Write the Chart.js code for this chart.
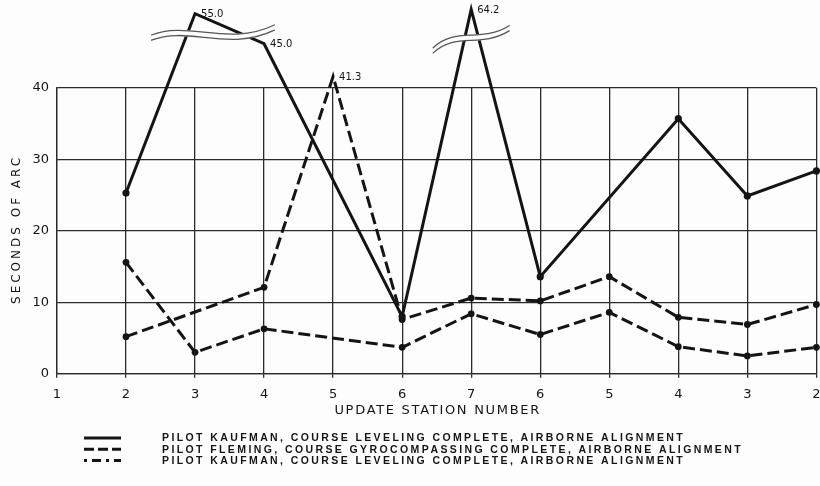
<!DOCTYPE html>
<html>
<head>
<meta charset="utf-8">
<script src="https://cdn.jsdelivr.net/npm/chart.js@4"></script>
<style>
  html, body { margin: 0; padding: 0; background: #fdfdfd; }
  #wrap { width: 820px; height: 486px; position: relative; }
</style>
</head>
<body>
<div id="wrap"><canvas id="c"></canvas></div>
<script>
// ---------------- data ----------------
const stationLabels = ['1', '2', '3', '4', '5', '6', '7', '6', '5', '4', '3', '2'];
const kaufmanLevelingA = [null, 25.3, 55.0, 45.0, null, 8.0, 64.2, 13.6, null, 35.7, 24.9, 28.4];
const flemingGyro      = [null, 15.6, 3.0, 6.3, null, 3.7, 8.4, 5.5, 8.6, 3.8, 2.5, 3.7];
const kaufmanLevelingB = [null, 5.2, null, 12.1, 41.3, 7.6, 10.6, 10.2, 13.6, 7.9, 6.9, 9.7];
const yTickValues = [0, 10, 20, 30, 40];
const seriesLabels = [
  'PILOT KAUFMAN, COURSE LEVELING COMPLETE, AIRBORNE ALIGNMENT',
  'PILOT FLEMING, COURSE GYROCOMPASSING COMPLETE, AIRBORNE ALIGNMENT',
  'PILOT KAUFMAN, COURSE LEVELING COMPLETE, AIRBORNE ALIGNMENT'
];
const xTitle = 'UPDATE STATION NUMBER';
const yTitle = 'SECONDS OF ARC';

// ---------------- broken y scale (values above 40 compressed) ----------------
const Y_MAX = 40;
const BREAK_MAP = [[40, 40], [45, 46.2], [55, 50.4], [64.2, 51.0]];
class BrokenScale extends Chart.LinearScale {
  getPixelForValue(value) {
    let v = value;
    if (value != null && value > BREAK_MAP[0][0]) {
      for (let i = 1; i < BREAK_MAP.length; i++) {
        const [a0, b0] = BREAK_MAP[i - 1], [a1, b1] = BREAK_MAP[i];
        if (value <= a1 || i === BREAK_MAP.length - 1) {
          v = b0 + (value - a0) * (b1 - b0) / (a1 - a0);
          break;
        }
      }
    }
    return super.getPixelForValue(v);
  }
}
BrokenScale.id = 'broken';
BrokenScale.defaults = Chart.LinearScale.defaults;
Chart.register(BrokenScale);

const INK = '#141414';
const BG = '#fdfdfd';

// wavy "axis break" marks, positioned in category-index / value units
const BREAKS = [
  { from: 1.37, to: 3.15, level: 47.7, wave: [2, -8, 11, -8] },
  { from: 5.45, to: 6.55, level: 46.8, wave: [12, -6, 6, -10] }
];

const breakPlugin = {
  id: 'breakMarks',
  afterDatasetsDraw(chart) {
    const { ctx, scales: { x, y } } = chart;
    const xp = i => x.left + (x.right - x.left) * i / (stationLabels.length - 1);
    BREAKS.forEach(b => {
      const x0 = xp(b.from), x1 = xp(b.to), yc = y.getPixelForValue(b.level), w = x1 - x0;
      const path = (dy) => {
        ctx.beginPath();
        ctx.moveTo(x0, yc + b.wave[0] + dy);
        ctx.bezierCurveTo(x0 + 0.3 * w, yc + b.wave[1] * 1.6 + dy,
                          x0 + 0.62 * w, yc + b.wave[2] * 1.3 + dy,
                          x1, yc + b.wave[3] + dy);
      };
      ctx.save();
      ctx.lineCap = 'round';
      path(0); ctx.strokeStyle = BG; ctx.lineWidth = 6; ctx.stroke();
      ctx.strokeStyle = '#555'; ctx.lineWidth = 1.3;
      path(-2.6); ctx.stroke();
      path(2.6); ctx.stroke();
      ctx.restore();
    });
  }
};

const valueLabelPlugin = {
  id: 'offScaleLabels',
  afterDatasetsDraw(chart) {
    const { ctx } = chart;
    ctx.save();
    ctx.font = '10px "DejaVu Sans"';
    ctx.fillStyle = INK;
    ctx.textBaseline = 'middle';
    chart.data.datasets.forEach((ds, di) => {
      const meta = chart.getDatasetMeta(di);
      ds.data.forEach((v, i) => {
        if (v != null && v > Y_MAX) {
          const el = meta.data[i];
          ctx.fillText(v.toFixed(1), el.x + 6, el.y + 1);
        }
      });
    });
    ctx.restore();
  }
};

const titlePlugin = {
  id: 'spacedTitles',
  afterDraw(chart) {
    const { ctx, scales: { x, y }, chartArea } = chart;
    ctx.save();
    ctx.fillStyle = INK;
    ctx.textAlign = 'center';
    ctx.textBaseline = 'middle';
    ctx.font = '13px "DejaVu Sans"';
    if ('letterSpacing' in ctx) ctx.letterSpacing = '1.7px';
    ctx.fillText(xTitle, (chartArea.left + chartArea.right) / 2 + 1, x.bottom - 19);
    ctx.font = '12px "DejaVu Sans"';
    if ('letterSpacing' in ctx) ctx.letterSpacing = '3px';
    ctx.translate(y.left + 11, (chartArea.top + chartArea.bottom) / 2);
    ctx.rotate(-Math.PI / 2);
    ctx.fillText(yTitle, 1.5, 0);
    ctx.restore();
  }
};

const legendPlugin = {
  id: 'bottomLegend',
  afterDraw(chart) {
    const { ctx } = chart;
    ctx.save();
    ctx.font = 'bold 10.5px "Liberation Sans"';
    ctx.fillStyle = INK;
    ctx.textBaseline = 'middle';
    if ('letterSpacing' in ctx) ctx.letterSpacing = '2.4px';
    chart.data.datasets.forEach((ds, i) => {
      const yy = 438 + i * 11.3;
      ctx.beginPath();
      ctx.setLineDash(ds.legendDash);
      ctx.lineWidth = 3;
      ctx.strokeStyle = INK;
      ctx.moveTo(84, yy); ctx.lineTo(121, yy);
      ctx.stroke();
      ctx.setLineDash([]);
      ctx.fillText(ds.label, 162, yy + 0.5);
    });
    ctx.restore();
  }
};

const mkDataset = (label, data, dash, legendDash, width, radius) => ({
  label, data,
  borderColor: INK, backgroundColor: INK,
  borderWidth: width, borderDash: dash, legendDash,
  pointRadius: radius, pointHoverRadius: radius,
  pointBackgroundColor: INK, pointBorderColor: INK, pointBorderWidth: 0,
  spanGaps: true, tension: 0, clip: false,
  borderCapStyle: 'butt', borderJoinStyle: 'miter'
});

new Chart(document.getElementById('c'), {
  type: 'line',
  data: {
    labels: stationLabels,
    datasets: [
      mkDataset(seriesLabels[0], kaufmanLevelingA, [], [], 3, 3.6),
      mkDataset(seriesLabels[1], flemingGyro, [12, 5], [10, 4], 3, 3.4),
      mkDataset(seriesLabels[2], kaufmanLevelingB, [12, 5], [3, 5, 9, 5], 3, 3.4)
    ]
  },
  options: {
    responsive: true,
    maintainAspectRatio: false,
    animation: false,
    events: [],
    layout: { padding: { top: 88, left: 6, right: 2, bottom: 56 } },
    plugins: { legend: { display: false }, tooltip: { enabled: false }, title: { display: false } },
    scales: {
      x: {
        type: 'category',
        offset: false,
        afterFit: s => { s.paddingRight = 0; },
        grid: { color: '#2a2a2a', lineWidth: 1.3, drawTicks: true, tickLength: 4, tickColor: '#2a2a2a' },
        border: { color: '#2a2a2a', width: 1.3 },
        ticks: { color: INK, font: { family: 'DejaVu Sans', size: 13 }, padding: 9, maxRotation: 0, autoSkip: false },
        title: { display: true, text: xTitle, color: 'rgba(0,0,0,0)', font: { family: 'DejaVu Sans', size: 13 }, padding: { top: 3, bottom: 0 } }
      },
      y: {
        type: 'broken',
        min: 0, max: Y_MAX,
        afterBuildTicks: s => { s.ticks = yTickValues.map(v => ({ value: v })); },
        grid: { color: '#2a2a2a', lineWidth: 1.3, drawTicks: false },
        border: { color: '#2a2a2a', width: 1.3 },
        ticks: { color: INK, font: { family: 'DejaVu Sans', size: 13 }, padding: 8 },
        title: { display: true, text: yTitle, color: 'rgba(0,0,0,0)', font: { family: 'DejaVu Sans', size: 12 }, padding: { top: 0, bottom: 4 } }
      }
    }
  },
  plugins: [breakPlugin, valueLabelPlugin, titlePlugin, legendPlugin]
});
</script>
</body>
</html>
